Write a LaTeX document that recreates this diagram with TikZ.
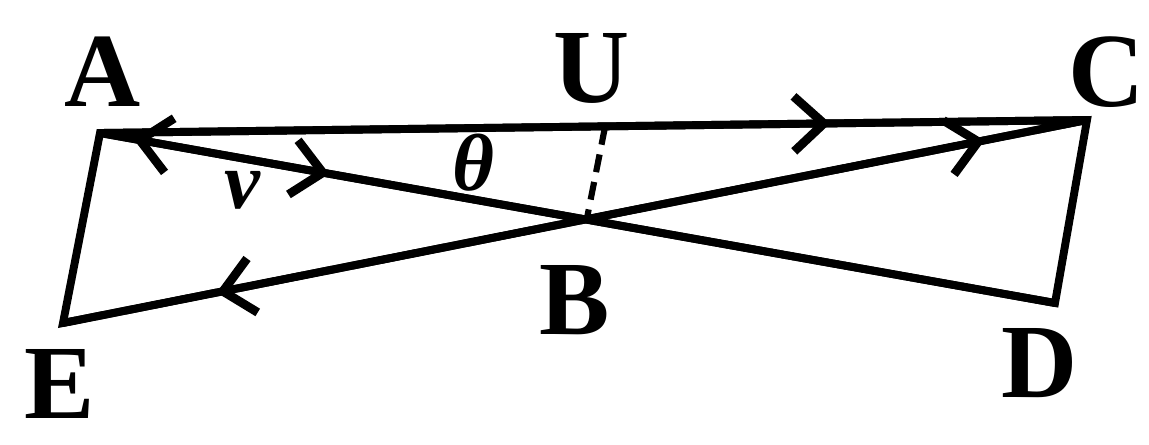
\documentclass[tikz,border=0pt]{standalone}
\usepackage{fontspec}
\setmainfont{Liberation Serif}
\usetikzlibrary{arrows.meta,decorations.markings}

\begin{document}
\begin{tikzpicture}[
  x=0.02cm, y=-0.02cm,
  every node/.style={font=\fontsize{60}{60}\selectfont\bfseries, inner sep=0pt},
  greek/.style={font=\fontsize{46}{46}\selectfont\bfseries\itshape},
  side/.style={line width=4.5pt, line join=miter},
  >={Straight Barb[length=6mm, width=11mm, line width=5pt]},
  arrat/.style={postaction={decorate, decoration={markings,
                mark=at position #1 with {\arrow{>}}}}},
  arrback/.style={postaction={decorate, decoration={markings,
                mark=at position #1 with {\arrowreversed{>}}}}}
]
\useasboundingbox (0,0) rectangle (1149,444);
\coordinate (A) at (100,133);
\coordinate (C) at (1087,120);
\coordinate (D) at (1055,303);
\coordinate (E) at (63,323);
\coordinate (F) at (605,127);
\coordinate (B) at (587,218);
% frame of the figure
\draw[side] (A) -- (D) -- (C) -- (A) -- (E) -- (C);
\draw[side, arrat=0.74] (A) -- (C);
\draw[side, arrback=0.035, arrat=0.24] (A) -- (D);
\draw[side, arrback=0.15, arrat=0.9] (E) -- (C);
\draw[line width=3.5pt, dash pattern=on 3.6mm off 2mm] (F) -- (B);
% labels
\node (lA) at (103,72) {A};
\node (lU) at (592,68) {U};
\node (lC) at (1107,72) {C};
\node (lB) at (575,300) {B};
\node (lD) at (1040,363) {D};
\node (lE) at (60,384) {E};
\node[greek] (lth) at (473,163) {θ};
\node[greek] (lv) at (242,190) {v};
\end{tikzpicture}
\end{document}
